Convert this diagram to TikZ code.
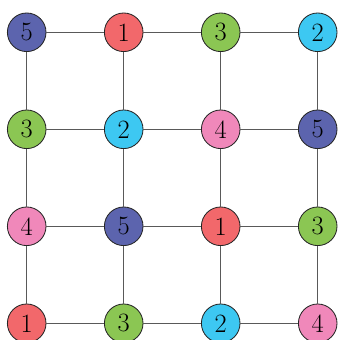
\documentclass[tikz,border=0pt]{standalone}
\definecolor{c1}{HTML}{F2686B}
\definecolor{c2}{HTML}{3DC8F2}
\definecolor{c3}{HTML}{8BC653}
\definecolor{c4}{HTML}{F088BA}
\definecolor{c5}{HTML}{5C64AE}
\begin{document}
\begin{tikzpicture}[x=0.025cm,y=0.025cm,
  num/.style={circle,draw=black!85,line width=0.6pt,minimum size=0.965cm,inner sep=0pt,
    font=\fontsize{18.8}{22}\selectfont},
  link/.style={draw=black!65,line width=0.7pt}]
  \useasboundingbox (0,0) rectangle (337,340);
  % the numbered vertices, row by row from the top
  \foreach \lab [count=\k from 0] in {5,1,3,2, 3,2,4,5, 4,5,1,3, 1,3,2,4} {
    \pgfmathtruncatemacro\col{mod(\k,4)}
    \pgfmathtruncatemacro\row{div(\k,4)}
    \node[num,fill=c\lab] (n-\row-\col) at ({26.7+97*\col},{307.7-97*\row}) {\lab};
  }
  % horizontal and vertical links
  \foreach \i in {0,...,3} {
    \foreach \j in {0,1,2} {
      \pgfmathtruncatemacro\jj{\j+1}
      \draw[link] (n-\i-\j) -- (n-\i-\jj);
      \draw[link] (n-\j-\i) -- (n-\jj-\i);
    }
  }
\end{tikzpicture}
\end{document}
